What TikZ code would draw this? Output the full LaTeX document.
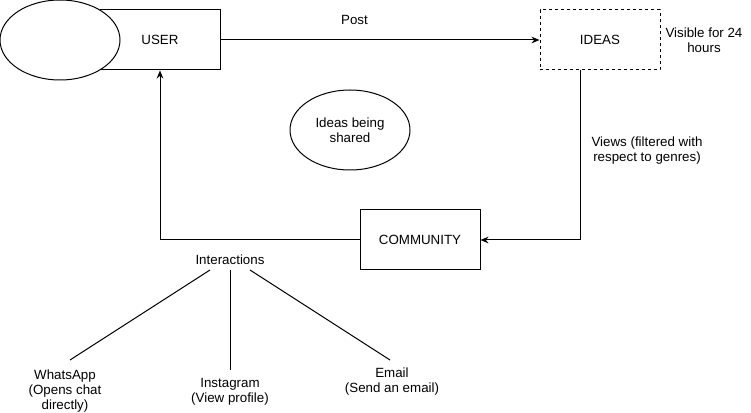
\documentclass[tikz,border=0pt]{standalone}
\usepackage{fontspec}
\setmainfont{Liberation Sans}
\usetikzlibrary{arrows.meta,shapes.geometric,positioning}
\tikzset{
  box/.style={draw, line width=0.75pt, minimum width=90pt, minimum height=45pt, inner sep=0pt, font=\fontsize{10}{11.25}\selectfont},
  dbox/.style={box, dash pattern=on 2.25pt off 2.25pt},
  oval/.style={ellipse, draw, fill=white, line width=0.75pt, minimum width=90pt, minimum height=60pt, inner sep=0pt, align=center, font=\fontsize{10}{11.25}\selectfont},
  link/.style={draw, line width=0.75pt, -{Stealth[length=6pt,width=5pt]}},
  wire/.style={draw, line width=0.75pt},
  lab/.style={font=\fontsize{10}{11.25}\selectfont, align=center, inner sep=0pt},
}
\begin{document}
\begin{tikzpicture}[x=0.75pt,y=-0.75pt]
  \useasboundingbox (0,0) rectangle (751,413);
  \node[box] (user) at (160,40) {USER};
  \node[oval] (me) at (60,40) {};
  \node[dbox] (ideas) at (600,40) {IDEAS};
  \node[lab] (visible) at (704,40) {Visible for 24\\hours};
  \node[oval] (shared) at (350,130) {Ideas being\\shared};
  \node[box] (comm) at (420,240) {COMMUNITY};
  \node[lab] (views) at (647,151) {Views (filtered with\\respect to genres)};
  \draw[link] (user) -- node[lab, pos=0.42, yshift=15pt] (post) {Post} (ideas);
  \draw[link] ([xshift=-15pt]ideas.south) |- (comm.east);
  \draw[link] (comm.west) -| (user.south);
  \node[lab] (inter) at (230,260) {Interactions};
  \node[lab] (whats) at (65,391) {WhatsApp\\(Opens chat\\directly)};
  \node[lab] (insta) at (230,391.5) {Instagram\\(View profile)};
  \node[lab] (mail) at (392,381.5) {Email\\(Send an email)};
  \coordinate (i1) at (210,270);
  \coordinate (i2) at (230,270);
  \coordinate (i3) at (250,270);
  \coordinate (wa) at (70,360);
  \coordinate (ig) at (230,370);
  \coordinate (em) at (390,360);
  \foreach \s/\t in {i1/wa,i2/ig,i3/em}
    \draw[wire] (\s) -- (\t);
\end{tikzpicture}
\end{document}
